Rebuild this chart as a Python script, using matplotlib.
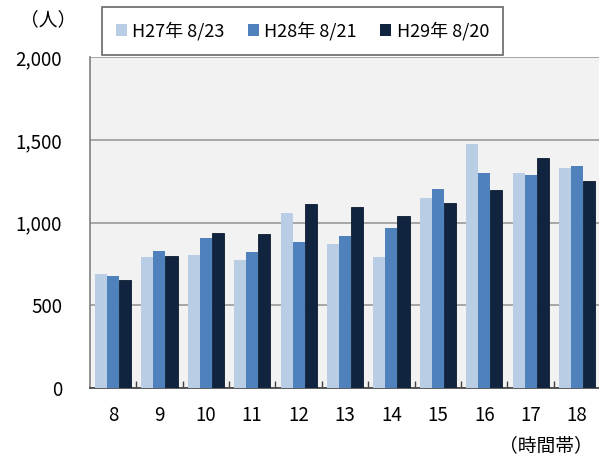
import numpy as np
import matplotlib.pyplot as plt

plt.rcParams['font.family'] = ['Noto Sans CJK JP', 'DejaVu Sans']

# 時間帯ごとの人数
hours = ['8', '9', '10', '11', '12', '13', '14', '15', '16', '17', '18']
h27 = [689, 794, 802, 774, 1057, 869, 794, 1148, 1475, 1303, 1333]
h28 = [677, 830, 909, 820, 885, 921, 966, 1206, 1299, 1287, 1342]
h29 = [653, 796, 939, 931, 1111, 1095, 1041, 1119, 1200, 1390, 1254]
series_labels = ['H27年 8/23', 'H28年 8/21', 'H29年 8/20']
colors = ['#B9CDE5', '#4F81BD', '#10243F']

fig = plt.figure(figsize=(5.99, 4.59), dpi=100)
ax = fig.add_axes([0.150, 0.155, 0.852, 0.720])
ax.set_facecolor('#F2F2F2')

x = np.arange(len(hours))
w = 0.26
for i, (vals, lab, c) in enumerate(zip([h27, h28, h29], series_labels, colors)):
    ax.bar(x + (i - 1) * w, vals, width=w, color=c, label=lab, zorder=3,
           edgecolor='#0B1A2E' if i == 2 else 'none', linewidth=0.6)

ax.set_ylim(0, 2000)
ax.set_xlim(-0.5, len(hours) - 0.5)
ax.set_yticks([0, 500, 1000, 1500, 2000])
ax.set_yticklabels(['0', '500', '1,000', '1,500', '2,000'], fontsize=13.5)
ax.yaxis.grid(True, color='#A6A6A6', linewidth=1.4, zorder=1)
ax.tick_params(axis='y', length=0, pad=20)

ax.set_xticks(x)
ax.set_xticklabels(hours, fontsize=13.5)
ax.set_xticks(np.arange(0.5, len(hours) - 0.5), minor=True)
ax.tick_params(axis='x', which='major', length=0, pad=12)
ax.tick_params(axis='x', which='minor', direction='in', length=5, width=1, color='#404040')

for s in ['top', 'right']:
    ax.spines[s].set_visible(False)
ax.spines['left'].set_color('#7F7F7F')
ax.spines['left'].set_linewidth(1.2)
ax.spines['bottom'].set_color('#404040')
ax.spines['bottom'].set_linewidth(1.2)

fig.text(0.08, 0.958, '（人）', fontsize=13.5, ha='center', va='center')
fig.text(0.99, 0.030, '（時間帯）', fontsize=13.5, ha='right', va='center')

leg = fig.legend(loc='center', bbox_to_anchor=(0.505, 0.932), ncol=3, fontsize=13,
                 frameon=True, fancybox=False, edgecolor='#404040',
                 handlelength=0.6, handleheight=0.6, handletextpad=0.3,
                 columnspacing=1.3, borderpad=0.8)
leg.get_frame().set_linewidth(1.2)
for h in leg.legend_handles:
    h.set_edgecolor('none')

fig.savefig('out.png', dpi=100)
